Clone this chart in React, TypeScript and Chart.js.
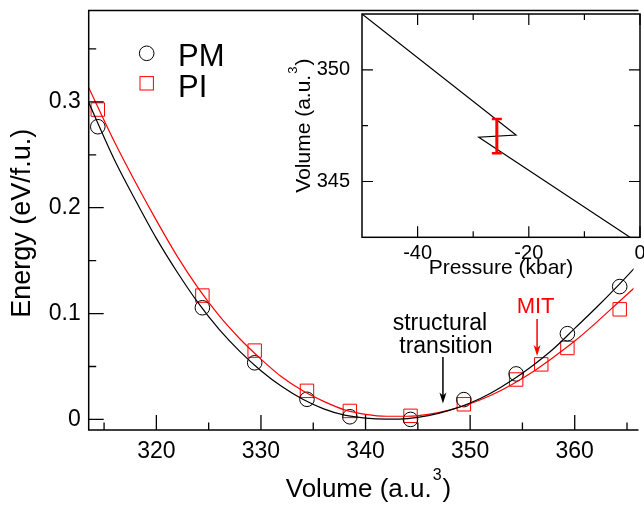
import React, { useEffect, useRef } from "react";
import { Chart, registerables } from "chart.js";

Chart.register(...registerables);

const FONT = "'Liberation Sans', Arial, Helvetica, sans-serif";

// ---- main panel: energy vs volume ----
const pmVolume = [314.4, 324.4, 329.4, 334.4, 338.5, 344.3, 349.4, 354.4, 359.3, 364.3];
const pmEnergy = [0.2765, 0.1055, 0.0535, 0.019, 0.0025, 0.0, 0.0187, 0.043, 0.081, 0.1255];
const piVolume = [314.4, 324.4, 329.4, 334.4, 338.5, 344.3, 349.4, 354.4, 356.8, 359.3, 364.3];
const piEnergy = [0.2927, 0.117, 0.065, 0.027, 0.008, 0.0034, 0.0143, 0.0377, 0.052, 0.0675, 0.104];
const fitVolume = [313.5, 316, 318, 320, 322, 324, 326, 328, 330, 332, 334, 336, 338, 340, 342, 344, 346, 348, 350, 352, 354, 356, 358, 360, 362, 364, 366];
const pmFit = [0.3, 0.245, 0.207, 0.171, 0.139, 0.11, 0.085, 0.064, 0.046, 0.031, 0.019, 0.01, 0.004, 0.0012, 0.0003, 0.0008, 0.0035, 0.0085, 0.0155, 0.025, 0.037, 0.051, 0.067, 0.086, 0.105, 0.125, 0.146];
const piFit = [0.314, 0.262, 0.224, 0.188, 0.154, 0.124, 0.098, 0.076, 0.057, 0.04, 0.027, 0.017, 0.009, 0.0048, 0.003, 0.003, 0.0048, 0.0088, 0.0148, 0.0228, 0.033, 0.045, 0.059, 0.074, 0.091, 0.109, 0.127];
const xTicks = [320, 330, 340, 350, 360];
const xMinorTicks = [315, 325, 335, 345, 355, 365];
const yTicks = [0, 0.1, 0.2, 0.3];
const yMinorTicks = [0.05, 0.15, 0.25, 0.35];
const structuralArrowVolume = 347.4;
const mitArrowVolume = 356.4;

// ---- inset: volume vs pressure ----
const insetPressure = [-50, -22.3, -29.0, -1.8];
const insetVolume = [352.5, 347.08, 346.98, 342.5];
const errPressure = [-25.75];
const errLow = [346.26];
const errHigh = [347.8];
const insetXTicks = [-40, -20, 0];
const insetXMinorTicks = [-30, -10];
const insetYTicks = [345, 350];
const insetYMinorTicks = [347.5];

function drawSupTitle(ctx: CanvasRenderingContext2D, x: number, y: number, rot: number, main: string, sup: string, tail: string, size: number, supSize: number, supRise: number) {
  ctx.save();
  ctx.translate(x, y);
  ctx.rotate(rot);
  ctx.textBaseline = "alphabetic";
  ctx.textAlign = "left";
  ctx.fillStyle = "#000";
  ctx.font = `${size}px ${FONT}`;
  const w1 = ctx.measureText(main).width;
  const w3 = ctx.measureText(tail).width;
  ctx.font = `${supSize}px ${FONT}`;
  const w2 = ctx.measureText(sup).width;
  const total = w1 + w2 + w3 + 2;
  let cx = -total / 2;
  ctx.font = `${size}px ${FONT}`;
  ctx.fillText(main, cx, 0);
  cx += w1 + 1;
  ctx.font = `${supSize}px ${FONT}`;
  ctx.fillText(sup, cx, -supRise);
  cx += w2 + 1;
  ctx.font = `${size}px ${FONT}`;
  ctx.fillText(tail, cx, 0);
  ctx.restore();
}

function drawArrow(ctx: CanvasRenderingContext2D, x: number, y0: number, y1: number, color: string) {
  ctx.save();
  ctx.strokeStyle = color;
  ctx.fillStyle = color;
  ctx.lineWidth = 1.5;
  ctx.beginPath();
  ctx.moveTo(x, y0);
  ctx.lineTo(x, y1 - 6);
  ctx.stroke();
  ctx.beginPath();
  ctx.moveTo(x, y1);
  ctx.lineTo(x - 3.5, y1 - 11);
  ctx.lineTo(x, y1 - 8);
  ctx.lineTo(x + 3.5, y1 - 11);
  ctx.closePath();
  ctx.fill();
  ctx.restore();
}

const mainDecor = {
  id: "mainDecor",
  afterDraw(chart: any) {
    const { ctx, chartArea: a, scales } = chart;
    const x = scales.x;
    const y = scales.y;
    ctx.save();
    ctx.strokeStyle = "#000";
    ctx.lineWidth = 1.5;
    ctx.beginPath();
    ctx.moveTo(a.right + 5, a.top);
    ctx.lineTo(a.left, a.top);
    ctx.lineTo(a.left, a.bottom);
    ctx.lineTo(a.right + 5, a.bottom);
    ctx.stroke();
    ctx.lineWidth = 1.3;
    ctx.beginPath();
    xTicks.forEach((v) => {
      const px = x.getPixelForValue(v);
      ctx.moveTo(px, a.bottom);
      ctx.lineTo(px, a.bottom - 15);
    });
    xMinorTicks.forEach((v) => {
      const px = x.getPixelForValue(v);
      ctx.moveTo(px, a.bottom);
      ctx.lineTo(px, a.bottom - 7.5);
    });
    yTicks.forEach((v) => {
      const py = y.getPixelForValue(v);
      ctx.moveTo(a.left, py);
      ctx.lineTo(a.left + 15, py);
    });
    yMinorTicks.forEach((v) => {
      const py = y.getPixelForValue(v);
      ctx.moveTo(a.left, py);
      ctx.lineTo(a.left + 7.5, py);
    });
    ctx.stroke();

    // axis titles
    ctx.fillStyle = "#000";
    ctx.save();
    ctx.translate(30, (a.top + a.bottom) / 2 + 3);
    ctx.rotate(-Math.PI / 2);
    ctx.font = `27px ${FONT}`;
    ctx.textAlign = "center";
    ctx.textBaseline = "alphabetic";
    ctx.fillText("Energy (eV/f.u.)", 0, 0);
    ctx.restore();
    drawSupTitle(ctx, 368.5, 496.7, 0, "Volume (a.u.", "3", ")", 26, 16, 16.5);

    // legend
    ctx.lineWidth = 1;
    ctx.strokeStyle = "#000";
    ctx.beginPath();
    ctx.arc(146.7, 53.3, 7.3, 0, Math.PI * 2);
    ctx.stroke();
    ctx.strokeStyle = "#ff0000";
    ctx.strokeRect(140, 76.6, 13.4, 13.4);
    ctx.fillStyle = "#000";
    ctx.font = `31px ${FONT}`;
    ctx.textAlign = "left";
    ctx.textBaseline = "alphabetic";
    ctx.fillText("PM", 178, 65.5);
    ctx.fillText("PI", 178, 96.5);

    // annotations
    const sx = x.getPixelForValue(structuralArrowVolume);
    ctx.font = `23px ${FONT}`;
    ctx.textAlign = "center";
    ctx.fillText("structural", sx - 3, 330);
    ctx.fillText("transition", sx + 3, 353);
    drawArrow(ctx, sx, 357, y.getPixelForValue(0.015), "#000");
    const mx = x.getPixelForValue(mitArrowVolume);
    ctx.fillStyle = "#ff0000";
    ctx.font = `22px ${FONT}`;
    ctx.fillText("MIT", mx - 1.5, 312.7);
    drawArrow(ctx, mx, 319, y.getPixelForValue(0.06), "#ff0000");
    ctx.restore();
  },
};

const insetDecor = {
  id: "insetDecor",
  beforeDraw(chart: any) {
    const { ctx, chartArea: a } = chart;
    ctx.save();
    ctx.fillStyle = "#fff";
    ctx.fillRect(a.left, a.top, a.right - a.left, a.bottom - a.top);
    ctx.restore();
  },
  afterDraw(chart: any) {
    const { ctx, chartArea: a, scales } = chart;
    const x = scales.x;
    const y = scales.y;
    ctx.save();
    ctx.strokeStyle = "#000";
    ctx.lineWidth = 1.5;
    ctx.strokeRect(a.left, a.top, a.right - a.left, a.bottom - a.top);
    ctx.lineWidth = 1.2;
    ctx.beginPath();
    const xt = (vals: number[], len: number) =>
      vals.forEach((v) => {
        const px = x.getPixelForValue(v);
        ctx.moveTo(px, a.bottom);
        ctx.lineTo(px, a.bottom - len);
        ctx.moveTo(px, a.top);
        ctx.lineTo(px, a.top + len);
      });
    const yt = (vals: number[], len: number) =>
      vals.forEach((v) => {
        const py = y.getPixelForValue(v);
        ctx.moveTo(a.left, py);
        ctx.lineTo(a.left + len, py);
        ctx.moveTo(a.right, py);
        ctx.lineTo(a.right - len, py);
      });
    xt(insetXTicks, 11);
    xt(insetXMinorTicks, 6);
    yt(insetYTicks, 11);
    yt(insetYMinorTicks, 6);
    ctx.stroke();

    // error bar
    ctx.strokeStyle = "#ff0000";
    errPressure.forEach((p, i) => {
      const px = x.getPixelForValue(p);
      const pl = y.getPixelForValue(errLow[i]);
      const ph = y.getPixelForValue(errHigh[i]);
      ctx.lineWidth = 3;
      ctx.beginPath();
      ctx.moveTo(px, pl);
      ctx.lineTo(px, ph);
      ctx.stroke();
      ctx.lineWidth = 2.5;
      ctx.beginPath();
      ctx.moveTo(px - 5, pl);
      ctx.lineTo(px + 5, pl);
      ctx.moveTo(px - 5, ph);
      ctx.lineTo(px + 5, ph);
      ctx.stroke();
    });

    // titles
    ctx.fillStyle = "#000";
    ctx.font = `21px ${FONT}`;
    ctx.textAlign = "center";
    ctx.textBaseline = "alphabetic";
    ctx.fillText("Pressure (kbar)", (a.left + a.right) / 2, 274);
    drawSupTitle(ctx, 40, (a.top + a.bottom) / 2, -Math.PI / 2, "Volume (a.u.", "3", ")", 21, 13, 13);
    ctx.restore();
  },
};

export default function App() {
  const mainRef = useRef<HTMLCanvasElement>(null);
  const insetRef = useRef<HTMLCanvasElement>(null);

  useEffect(() => {
    const tickFont = { family: FONT, size: 23 };
    const main = new Chart(mainRef.current as HTMLCanvasElement, {
      type: "scatter",
      data: {
        datasets: [
          {
            label: "PM fit",
            data: fitVolume.map((v, i) => ({ x: v, y: pmFit[i] })),
            showLine: true,
            borderColor: "#000",
            borderWidth: 1.2,
            pointRadius: 0,
            cubicInterpolationMode: "monotone",
          },
          {
            label: "PI fit",
            data: fitVolume.map((v, i) => ({ x: v, y: piFit[i] })),
            showLine: true,
            borderColor: "#ff0000",
            borderWidth: 1.2,
            pointRadius: 0,
            cubicInterpolationMode: "monotone",
          },
          {
            label: "PM",
            data: pmVolume.map((v, i) => ({ x: v, y: pmEnergy[i] })),
            showLine: false,
            pointStyle: "circle",
            pointRadius: 7.3,
            pointBorderWidth: 1,
            pointBorderColor: "#000",
            pointBackgroundColor: "rgba(0,0,0,0)",
          },
          {
            label: "PI",
            data: piVolume.map((v, i) => ({ x: v, y: piEnergy[i] })),
            showLine: false,
            pointStyle: "rect",
            pointRadius: 9.5,
            pointBorderWidth: 1,
            pointBorderColor: "#ff0000",
            pointBackgroundColor: "rgba(0,0,0,0)",
          },
        ],
      } as any,
      options: {
        responsive: false,
        animation: false,
        devicePixelRatio: 1,
        events: [],
        layout: { padding: { top: 6, left: 0, right: 0, bottom: 0 } },
        plugins: { legend: { display: false }, tooltip: { enabled: false } },
        scales: {
          x: {
            type: "linear",
            min: 313.53,
            max: 365.62,
            grid: { display: false, drawTicks: false },
            border: { display: false },
            afterBuildTicks: (s: any) => {
              s.ticks = xTicks.map((v) => ({ value: v }));
            },
            afterFit: (s: any) => {
              s.height = 76;
              s.paddingLeft = 0;
              s.paddingRight = 0;
            },
            ticks: { font: tickFont, color: "#000", padding: 8, maxRotation: 0, autoSkip: false, callback: (v: any) => String(v) },
          },
          y: {
            type: "linear",
            min: -0.01,
            max: 0.3863,
            grid: { display: false, drawTicks: false },
            border: { display: false },
            afterBuildTicks: (s: any) => {
              s.ticks = yTicks.map((v) => ({ value: v }));
            },
            afterFit: (s: any) => {
              s.width = 88.7;
              s.paddingTop = 0;
              s.paddingBottom = 0;
            },
            ticks: { font: tickFont, color: "#000", padding: 8, autoSkip: false, callback: (v: any) => (v === 0 ? "0" : Number(v).toFixed(1)) },
          },
        },
      } as any,
      plugins: [mainDecor],
    });

    const insetFont = { family: FONT, size: 20 };
    const inset = new Chart(insetRef.current as HTMLCanvasElement, {
      type: "scatter",
      data: {
        datasets: [
          {
            label: "V(P)",
            data: insetPressure.map((p, i) => ({ x: p, y: insetVolume[i] })),
            showLine: true,
            borderColor: "#000",
            borderWidth: 1.2,
            pointRadius: 0,
            tension: 0,
          },
        ],
      } as any,
      options: {
        responsive: false,
        animation: false,
        devicePixelRatio: 1,
        events: [],
        layout: { padding: { top: 14, left: 0, right: 4, bottom: 0 } },
        plugins: { legend: { display: false }, tooltip: { enabled: false } },
        scales: {
          x: {
            type: "linear",
            min: -50,
            max: 0,
            grid: { display: false, drawTicks: false },
            border: { display: false },
            afterBuildTicks: (s: any) => {
              s.ticks = insetXTicks.map((v) => ({ value: v }));
            },
            afterFit: (s: any) => {
              s.height = 52.7;
              s.paddingLeft = 0;
              s.paddingRight = 0;
            },
            ticks: { font: insetFont, color: "#000", padding: 4, maxRotation: 0, autoSkip: false, callback: (v: any) => String(v) },
          },
          y: {
            type: "linear",
            min: 342.5,
            max: 352.5,
            grid: { display: false, drawTicks: false },
            border: { display: false },
            afterBuildTicks: (s: any) => {
              s.ticks = insetYTicks.map((v) => ({ value: v }));
            },
            afterFit: (s: any) => {
              s.width = 92;
              s.paddingTop = 0;
              s.paddingBottom = 0;
            },
            ticks: { font: insetFont, color: "#000", padding: 12, autoSkip: false, callback: (v: any) => String(v) },
          },
        },
      } as any,
      plugins: [insetDecor],
    });

    return () => {
      main.destroy();
      inset.destroy();
    };
  }, []);

  return (
    <div style={{ position: "fixed", left: 0, top: 0, width: 644, height: 506, background: "#fff", overflow: "hidden" }}>
      <canvas ref={mainRef} width={644} height={506} style={{ position: "absolute", left: 0, top: 0, width: 644, height: 506 }} />
      <canvas ref={insetRef} width={374} height={290} style={{ position: "absolute", left: 270, top: 0, width: 374, height: 290 }} />
    </div>
  );
}
